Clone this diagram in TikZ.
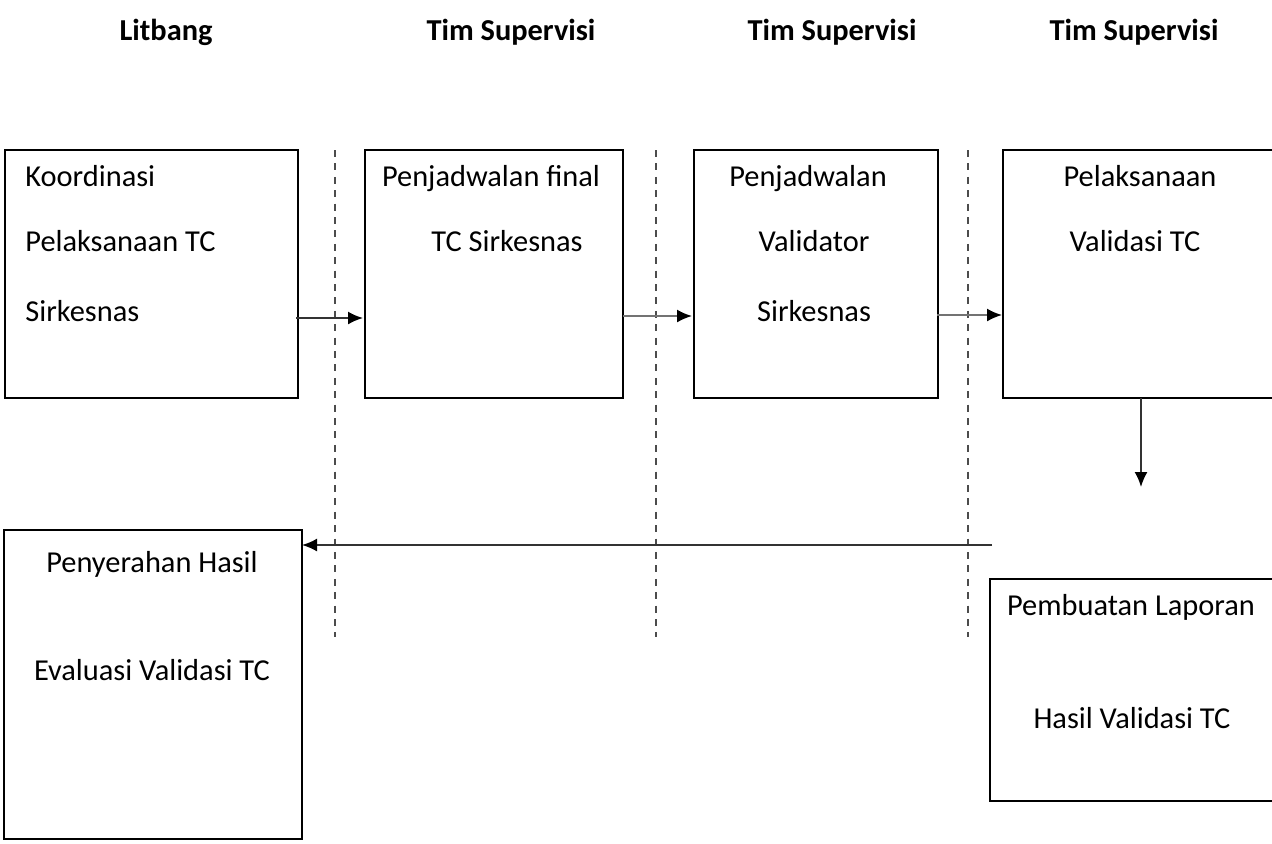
\documentclass[tikz,border=0pt]{standalone}
\usepackage{fontspec}
\setmainfont{Carlito}
\usetikzlibrary{arrows.meta}

\begin{document}
\begin{tikzpicture}[x=0.5pt, y=-0.5pt,
    every node/.style={font=\fontsize{15.2pt}{18pt}\selectfont},
    box/.style={rectangle, draw, line width=1.4pt, anchor=north west, inner sep=0pt, outer sep=0pt},
    head/.style={anchor=base, font=\fontsize{15.2pt}{18pt}\selectfont\bfseries},
    txt/.style={anchor=base, inner sep=0pt},
    ltxt/.style={anchor=base west, inner sep=0pt},
    arr/.style={draw=black!80, line width=0.9pt, -{Latex[length=7.5pt, width=6.5pt, color=black]}},
    grayarr/.style={arr, draw=black!55},
    lane/.style={draw=black!70, line width=1pt, dash pattern=on 3.5pt off 3.2pt}]
        \useasboundingbox (0,0) rectangle (1272,843);
        \clip (0,0) rectangle (1272,843);

        % Headers
        \node[head] (hlit) at (166,40) {Litbang};
        \node[head] (hsup1) at (511,40) {Tim Supervisi};
        \node[head] (hsup2) at (832,40) {Tim Supervisi};
        \node[head] (hsup3) at (1134,40) {Tim Supervisi};

        % Lanes
        \coordinate (l1a) at (335,150); \coordinate (l1b) at (335,637);
        \coordinate (l2a) at (656,150); \coordinate (l2b) at (656,637);
        \coordinate (l3a) at (968,150); \coordinate (l3b) at (968,637);
        \draw[lane] (l1a) -- (l1b);
        \draw[lane] (l2a) -- (l2b);
        \draw[lane] (l3a) -- (l3b);

        % Koordinasi
        \node[box, minimum width=146.5pt, minimum height=124pt] (koord) at (5,150) {};
        \node[ltxt] (koord1) at (25,186) {Koordinasi};
        \node[ltxt] (koord2) at (25,251) {Pelaksanaan TC};
        \node[ltxt] (koord3) at (25,321) {Sirkesnas};

        % Penjadwalan final
        \node[box, minimum width=129pt, minimum height=124pt] (final) at (365,150) {};
        \node[txt] (final1) at (491,186) {Penjadwalan final};
        \node[txt] (final2) at (507,251) {TC Sirkesnas};

        % Penjadwalan validator
        \node[box, minimum width=122pt, minimum height=124pt] (valid) at (694,150) {};
        \node[txt] (valid1) at (808,186) {Penjadwalan};
        \node[txt] (valid2) at (814,251) {Validator};
        \node[txt] (valid3) at (814,321) {Sirkesnas};

        % Pelaksanaan validasi
        \node[box, minimum width=148.5pt, minimum height=124pt] (laks) at (1003,150) {};
        \node[txt] (laks1) at (1140,186) {Pelaksanaan};
        \node[txt] (laks2) at (1135,251) {Validasi TC};

        % Pembuatan laporan
        \node[box, minimum width=155pt, minimum height=111pt] (lapor) at (990,579) {};
        \node[txt] (lapor1) at (1131,615) {Pembuatan Laporan};
        \node[txt] (lapor2) at (1132,728) {Hasil Validasi TC};

        % Penyerahan hasil
        \node[box, minimum width=149pt, minimum height=154.5pt] (serah) at (4,530) {};
        \node[txt] (serah1) at (152,572) {Penyerahan Hasil};
        \node[txt] (serah2) at (152,680) {Evaluasi Validasi TC};

        % Connections
        \coordinate (dn) at (1141,487);
        \coordinate (back) at (992,545);
        \draw[arr] ([xshift=-1pt]koord.east |- 0,318) -- ([xshift=-1pt]final.west |- 0,318);
        \draw[grayarr] (final.east |- 0,316) -- ([xshift=-1pt]valid.west |- 0,316);
        \draw[grayarr] ([xshift=-0.5pt]valid.east |- 0,315) -- ([xshift=-0.5pt]laks.west |- 0,315);
        \draw[arr] (laks.south -| dn) -- (dn);
        \draw[arr] (back) -- (serah.east |- back);
    \end{tikzpicture}
\end{document}
